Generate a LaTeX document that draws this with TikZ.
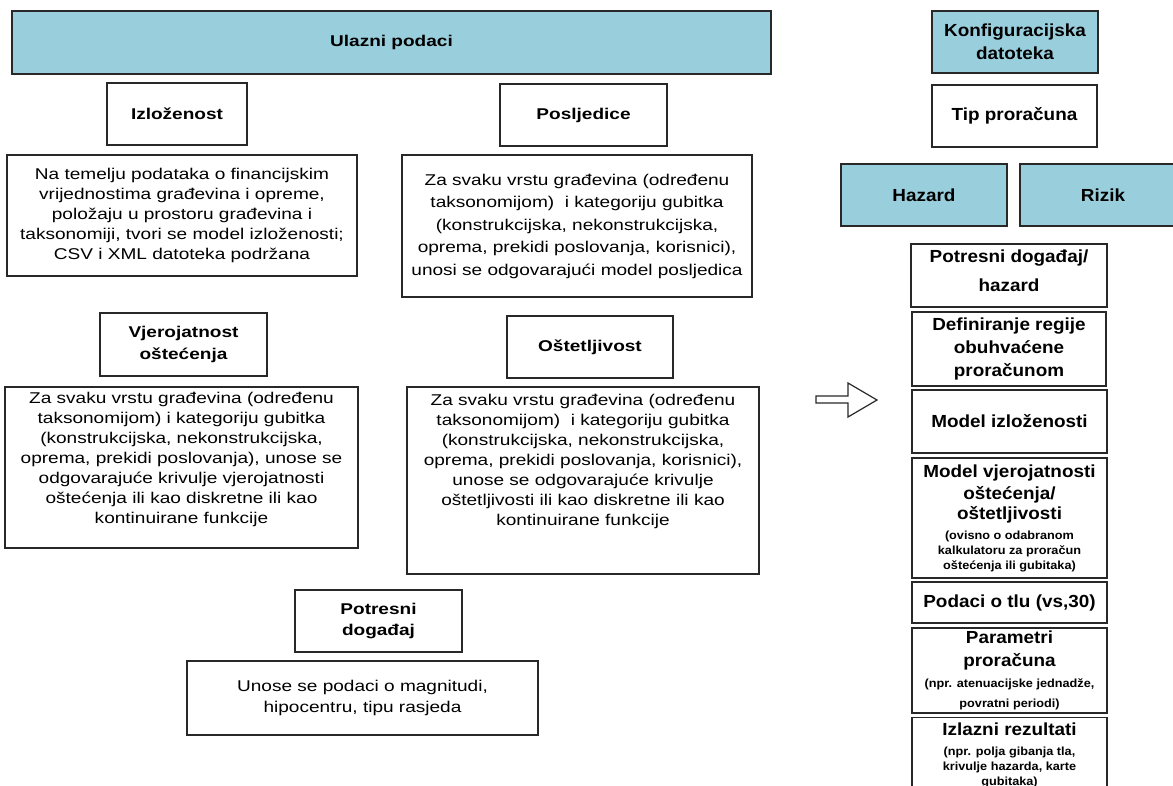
\documentclass[tikz,border=0pt]{standalone}
\usepackage{fontspec}
\setmainfont[FakeStretch=1.22]{Liberation Sans}
\newfontfamily\desnifont[FakeStretch=1.08]{Liberation Sans}
\usepackage{tikz}
\usetikzlibrary{positioning}

\definecolor{plava}{RGB}{153,207,221}
\definecolor{okvir}{RGB}{40,40,40}
\newcommand{\sitno}{\fontsize{11.75}{15}\selectfont}

\begin{document}
\begin{tikzpicture}[
  x=1pt, y=1pt,
  kutija/.style={draw=okvir, line width=1.4pt, align=center, inner sep=1pt,
    font=\fontsize{15.6}{20}\selectfont},
  naslov/.style={kutija, font=\bfseries\fontsize{15.6}{21.5}\selectfont},
  desno/.style={kutija, font=\desnifont\bfseries\fontsize{17.5}{23}\selectfont},
  plavo/.style={fill=plava}
]
  \useasboundingbox (0,0) rectangle (1173,-785);

  % ulazni podaci
  \node[naslov, plavo, minimum width=759, minimum height=63] (ulaz) at (391.5,-42.5) {Ulazni podaci};

  % izlozenost
  \node[naslov, minimum width=140, minimum height=62] (izlN) at (177,-114) {Izloženost};
  \node[kutija, minimum width=350, minimum height=121] (izlT) at (182,-215.5)
    {Na temelju podataka o financijskim\\ vrijednostima građevina i opreme,\\ položaju u prostoru građevina i\\ taksonomiji, tvori se model izloženosti;\\ CSV i XML datoteka podržana};

  % posljedice
  \node[naslov, minimum width=167, minimum height=62] (posN) at (583.5,-115) {Posljedice};
  \node[kutija, minimum width=350, minimum height=142, font=\fontsize{15.6}{22.5}\selectfont] (posT) at (577,-226)
    {Za svaku vrstu građevina (određenu\\ taksonomijom)\ \ i kategoriju gubitka\\ (konstrukcijska, nekonstrukcijska,\\ oprema, prekidi poslovanja, korisnici),\\ unosi se odgovarajući model posljedica};

  % vjerojatnost ostecenja
  \node[naslov, minimum width=167, minimum height=63] (vjeN) at (183.5,-344.5) {Vjerojatnost\\ oštećenja};
  \node[kutija, minimum width=353, minimum height=161] (vjeT) at (181.5,-467.5)
    {Za svaku vrstu građevina (određenu\\ taksonomijom) i kategoriju gubitka\\ (konstrukcijska, nekonstrukcijska,\\ oprema, prekidi poslovanja), unose se\\ odgovarajuće krivulje vjerojatnosti\\ oštećenja ili kao diskretne ili kao\\ kontinuirane funkcije\\ \mbox{}};

  % ostetljivost
  \node[naslov, minimum width=166, minimum height=62] (ostN) at (590,-347) {Oštetljivost};
  \node[kutija, minimum width=352, minimum height=187] (ostT) at (583,-480.5)
    {Za svaku vrstu građevina (određenu\\ taksonomijom)\ \ i kategoriju gubitka\\ (konstrukcijska, nekonstrukcijska,\\ oprema, prekidi poslovanja, korisnici),\\ unose se odgovarajuće krivulje\\ oštetljivosti ili kao diskretne ili kao\\ kontinuirane funkcije\\[21pt] \mbox{}};

  % potresni dogadaj
  \node[naslov, minimum width=167, minimum height=62] (potN) at (378.5,-621) {Potresni\\ događaj};
  \node[kutija, minimum width=351, minimum height=74, font=\fontsize{15.6}{21.7}\selectfont] (potT) at (362.5,-698)
    {Unose se podaci o magnitudi,\\ hipocentru, tipu rasjeda};

  % strelica
  \draw[okvir, line width=1.2pt, line join=miter]
    (816,-396) -- (848,-396) -- (848,-383) -- (877,-400) -- (848,-417) -- (848,-403) -- (816,-403) -- cycle;

  % konfiguracija
  \node[desno, plavo, minimum width=166, minimum height=62] (konf) at (1015,-42) {Konfiguracijska\\ datoteka};
  \node[desno, minimum width=165, minimum height=62] (tip) at (1014.5,-116) {Tip proračuna};
  \node[desno, plavo, minimum width=166, minimum height=62] (haz) at (924,-195) {Hazard};
  \node[desno, plavo, minimum width=166, minimum height=62] (riz) at (1103,-195) {Rizik};

  % koraci proracuna
  \node[desno, minimum width=196, minimum height=63] (k1) at (1009,-275.5) {Potresni događaj/\\[6pt] hazard\\[-14pt] \mbox{}};
  \node[desno, minimum width=194, minimum height=74] (k2) at (1009,-349) {Definiranje regije\\ obuhvaćene\\ proračunom};
  \node[desno, minimum width=195, minimum height=63] (k3) at (1009.5,-421.5) {Model izloženosti};
  \node[desno, minimum width=195, minimum height=120] (k4) at (1009.5,-518)
    {Model vjerojatnosti\\[-1pt] oštećenja/\\[-3pt] oštetljivosti\\[-3pt] {\sitno (ovisno o odabranom}\\[-8pt] {\sitno kalkulatoru za proračun}\\[-8pt] {\sitno oštećenja ili gubitaka)}};
  \node[desno, minimum width=195, minimum height=41] (k5) at (1009.5,-602.5) {Podaci o tlu (vs,30)};
  \node[desno, minimum width=195, minimum height=85] (k6) at (1009.5,-670.5)
    {Parametri\\ proračuna\\[-2pt] {\sitno (npr. atenuacijske jednadže,}\\[-3pt] {\sitno povratni periodi)}};
  \node[desno, minimum width=195, minimum height=76, anchor=north] (k7) at (1009.5,-717)
    {Izlazni rezultati\\[-3pt] {\sitno (npr. polja gibanja tla,}\\[-8pt] {\sitno krivulje hazarda, karte}\\[-8pt] {\sitno gubitaka)}};
\end{tikzpicture}
\end{document}
